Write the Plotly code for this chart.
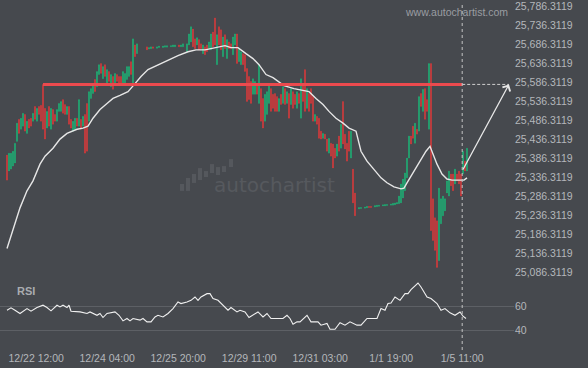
import plotly.graph_objects as go

# ---------------- data ----------------
bar_index = list(range(231))

opens = [
    25395, 25353, 25358, 25366, 25374, 25431, 25489, 25463, 25471, 25502,
    25452, 25489, 25492, 25484, 25523, 25484, 25523, 25526, 25581, 25518,
    25466, 25523, 25463, 25515, 25502, 25484, 25510, 25510, 25541, 25528,
    25502, 25523, 25489, 25458, 25463, 25492, 25471, 25489, 25471, 25502,
    25531, 25484, 25544, 25557, 25594, 25575, 25607, 25636, 25596, 25633,
    25583, 25615, 25575, 25602, 25581, 25607, 25602, 25602, 25583, 25583,
    25594, 25602, 25641, 25583, 25685, 25662, None, None, None, None,
    25680, 25674, 25675, 25680, None, 25676, 25678, None, 25678, 25679,
    25679, None, 25680, 25680, 25680, None, 25685, 25680, 25680, None,
    25667, 25685, 25693, 25727, 25701, 25685, 25699, 25688, 25662, 25680,
    25685, 25675, 25672, 25719, 25756, 25633, 25733, 25725, 25654, 25712,
    25649, 25693, 25688, 25659, 25685, 25714, 25641, 25633, 25662, 25659,
    25623, 25602, 25589, 25555, 25555, 25583, 25531, 25570, 25544, 25484,
    25502, 25531, 25570, 25555, 25557, 25549, 25510, 25555, 25531, 25570,
    25531, 25557, 25528, 25562, 25555, 25518, 25557, 25492, 25581, 25620,
    25518, 25557, 25570, 25549, 25484, 25497, 25492, 25458, 25439, 25450,
    25437, 25400, 25426, 25424, 25413, 25392, 25445, 25413, 25536, 25450,
    25426, 25458, 25387, 25358, 25295, None, 25253, 25254, None, 25255,
    25256, 25260, 25260, None, 25258, 25259, 25260, None, 25261, 25261,
    25262, None, 25263, 25263, 25264, 25266, 25267, 25269, 25282, 25301,
    25335, 25387, 25445, 25471, 25426, 25463, 25458, 25557, 25510, 25570,
    25541, 25463, 25636, 25280, 25230, 25222, 25117, 25214, 25235, 25248,
    25295, 25287, 25345, 25345, 25319, 25345, 25353, 25345, 25345, 25379,
    25353,
]

highs = [
    25395, 25400, 25400, 25405, 25426, 25479, 25489, 25492, 25505, 25502,
    25484, 25489, 25492, 25505, 25523, 25518, 25523, 25526, 25581, 25518,
    25510, 25523, 25518, 25515, 25502, 25515, 25531, 25536, 25541, 25528,
    25523, 25523, 25489, 25484, 25492, 25492, 25541, 25489, 25497, 25502,
    25531, 25562, 25570, 25583, 25594, 25615, 25633, 25636, 25628, 25633,
    25620, 25615, 25607, 25602, 25610, 25607, 25602, 25602, 25615, 25610,
    25628, 25628, 25641, 25701, 25685, 25688, None, None, None, None,
    25680, 25678, 25680, 25680, None, 25680, 25682, None, 25682, 25683,
    25683, None, 25683, 25685, 25685, None, 25685, 25685, 25688, None,
    25688, 25714, 25733, 25727, 25701, 25704, 25699, 25688, 25685, 25680,
    25685, 25693, 25714, 25719, 25756, 25712, 25733, 25725, 25706, 25712,
    25699, 25693, 25688, 25706, 25714, 25714, 25675, 25667, 25662, 25659,
    25623, 25602, 25589, 25596, 25589, 25583, 25633, 25570, 25544, 25555,
    25562, 25581, 25570, 25555, 25557, 25549, 25544, 25555, 25575, 25570,
    25562, 25557, 25570, 25562, 25555, 25562, 25557, 25596, 25581, 25620,
    25570, 25557, 25570, 25549, 25502, 25497, 25492, 25458, 25452, 25450,
    25437, 25439, 25426, 25424, 25413, 25424, 25445, 25476, 25536, 25450,
    25426, 25458, 25458, 25358, 25295, None, 25257, 25257, None, 25258,
    25260, 25260, 25260, None, 25262, 25263, 25263, None, 25264, 25265,
    25265, None, 25266, 25268, 25269, 25270, 25287, 25319, 25332, 25348,
    25387, 25445, 25445, 25471, 25479, 25463, 25549, 25557, 25568, 25570,
    25541, 25636, 25636, 25280, 25230, 25222, 25308, 25280, 25287, 25280,
    25327, 25353, 25345, 25345, 25358, 25345, 25353, 25345, 25405, 25379,
    25413,
]

lows = [
    25329, 25353, 25358, 25366, 25374, 25431, 25452, 25463, 25471, 25458,
    25452, 25466, 25471, 25484, 25489, 25484, 25502, 25484, 25463, 25437,
    25466, 25471, 25463, 25476, 25484, 25484, 25510, 25510, 25505, 25502,
    25502, 25476, 25466, 25458, 25463, 25471, 25471, 25463, 25471, 25400,
    25405, 25484, 25544, 25557, 25562, 25575, 25607, 25610, 25596, 25602,
    25583, 25589, 25575, 25568, 25581, 25589, 25583, 25578, 25583, 25583,
    25594, 25602, 25607, 25583, 25654, 25662, None, None, None, None,
    25672, 25674, 25675, 25676, None, 25676, 25678, None, 25678, 25679,
    25679, None, 25680, 25680, 25680, None, 25680, 25680, 25680, None,
    25667, 25685, 25693, 25680, 25675, 25685, 25672, 25675, 25662, 25659,
    25667, 25675, 25672, 25680, 25685, 25633, 25685, 25672, 25654, 25675,
    25649, 25675, 25675, 25659, 25685, 25636, 25641, 25633, 25633, 25615,
    25536, 25541, 25531, 25555, 25555, 25555, 25531, 25484, 25466, 25484,
    25502, 25531, 25510, 25518, 25510, 25510, 25510, 25528, 25531, 25528,
    25531, 25492, 25528, 25518, 25528, 25518, 25531, 25492, 25536, 25510,
    25518, 25510, 25531, 25484, 25484, 25476, 25439, 25437, 25439, 25437,
    25405, 25400, 25392, 25361, 25387, 25392, 25405, 25413, 25424, 25411,
    25379, 25405, 25387, 25269, 25235, None, 25253, 25254, None, 25255,
    25256, 25257, 25257, None, 25258, 25259, 25260, None, 25261, 25261,
    25262, None, 25263, 25263, 25264, 25266, 25267, 25269, 25282, 25301,
    25335, 25387, 25424, 25439, 25426, 25450, 25458, 25523, 25510, 25489,
    25510, 25463, 25196, 25170, 25144, 25099, 25117, 25214, 25235, 25248,
    25295, 25287, 25314, 25301, 25319, 25327, 25319, 25287, 25345, 25353,
    25353,
]

closes = [
    25329, 25400, 25400, 25405, 25426, 25479, 25452, 25492, 25505, 25458,
    25484, 25466, 25471, 25505, 25489, 25518, 25502, 25484, 25463, 25437,
    25510, 25471, 25518, 25476, 25484, 25515, 25531, 25536, 25505, 25502,
    25523, 25476, 25466, 25484, 25492, 25471, 25541, 25463, 25497, 25400,
    25405, 25562, 25570, 25583, 25562, 25615, 25633, 25610, 25628, 25602,
    25620, 25589, 25607, 25568, 25610, 25589, 25583, 25578, 25615, 25610,
    25628, 25628, 25607, 25701, 25654, 25688, None, None, None, None,
    25672, 25678, 25680, 25676, None, 25680, 25682, None, 25682, 25683,
    25683, None, 25683, 25685, 25685, None, 25680, 25685, 25688, None,
    25688, 25714, 25733, 25680, 25675, 25704, 25672, 25675, 25685, 25659,
    25667, 25693, 25714, 25680, 25685, 25712, 25685, 25672, 25706, 25675,
    25699, 25675, 25675, 25706, 25714, 25636, 25675, 25667, 25633, 25615,
    25536, 25541, 25531, 25596, 25589, 25555, 25633, 25484, 25466, 25555,
    25562, 25581, 25510, 25518, 25510, 25510, 25544, 25528, 25575, 25528,
    25562, 25492, 25570, 25518, 25528, 25562, 25531, 25596, 25536, 25510,
    25570, 25510, 25531, 25484, 25502, 25476, 25439, 25437, 25452, 25437,
    25405, 25439, 25392, 25361, 25387, 25424, 25405, 25476, 25424, 25411,
    25379, 25405, 25458, 25269, 25235, None, 25257, 25257, None, 25258,
    25260, 25257, 25257, None, 25262, 25263, 25263, None, 25264, 25265,
    25265, None, 25266, 25268, 25269, 25270, 25287, 25319, 25332, 25348,
    25387, 25445, 25424, 25439, 25479, 25450, 25549, 25523, 25568, 25489,
    25510, 25636, 25196, 25170, 25144, 25099, 25308, 25280, 25287, 25280,
    25327, 25353, 25314, 25301, 25358, 25327, 25319, 25287, 25405, 25353,
    25413,
]

ma_index = [0, 3, 6.5, 10, 13, 16.5, 19, 23, 26.5, 30,
            32.5, 35, 38, 40.5, 43, 46.5, 50, 53, 56.5, 60.5,
            64, 67, 70.5, 75.5, 80.5, 85.5, 90.5, 94.5, 99, 104,
            109, 112, 115.5, 119.5, 123, 126, 129.5, 133, 135.5, 138.5,
            143.5, 148, 151, 154.5, 158, 161, 164.5, 168, 171, 174.5,
            177, 180, 183.5, 187, 190, 193.5, 197, 198.5, 200, 203.5,
            207, 209.5, 211.5, 212.5, 215, 217.5, 220, 222.5, 225, 228.5,
            230]
ma_values = [25149, 25196, 25256, 25301, 25327, 25371, 25392, 25413, 25437, 25452,
             25458, 25463, 25466, 25471, 25492, 25515, 25531, 25544, 25552, 25562,
             25583, 25602, 25620, 25633, 25646, 25657, 25667, 25672, 25672, 25678,
             25683, 25678, 25678, 25662, 25649, 25633, 25607, 25599, 25589, 25578,
             25570, 25565, 25562, 25544, 25528, 25510, 25492, 25479, 25466, 25458,
             25405, 25379, 25358, 25335, 25322, 25311, 25306, 25308, 25322, 25353,
             25384, 25405, 25418, 25405, 25371, 25345, 25332, 25329, 25329, 25329,
             25335]

rsi_index = [0, 2, 4, 6.5, 10, 12, 15, 18, 20, 22,
             25, 26.5, 28, 30, 31, 32, 36.5, 40, 41.5, 43,
             45, 46.5, 48, 50, 54, 56, 58, 60, 61.5, 63,
             66.5, 68, 70, 72, 74, 75.5, 78, 80.5, 83, 85.5,
             87, 90, 92, 94, 95.5, 97, 100, 101.5, 103, 105.5,
             108, 110.5, 112, 115, 116.5, 119, 121, 123, 125.5, 128,
             130, 132, 138, 140, 141.5, 143, 145, 146.5, 150, 152,
             155.5, 157, 160, 161.5, 164, 166.5, 169, 171.5, 175, 177,
             180, 185, 187, 189, 190.5, 192, 194, 196.5, 199, 200.5,
             202, 205.5, 207, 210, 212, 215, 217, 219, 221.5, 224,
             226.5, 228, 229.5]
rsi_values = [56.9, 58.9, 56.9, 54.2, 58.3, 56.1, 59.2, 61.1, 59.2, 56.4,
              61.1, 59.7, 61.1, 59.2, 61.1, 56.1, 55.5, 54.2, 55.5, 54.2,
              52.7, 54.2, 50.8, 54.2, 55.5, 52.7, 48.0, 50.0, 48.0, 50.0,
              48.6, 50.0, 47.2, 47.2, 51.3, 52.7, 51.3, 54.2, 58.3, 63.8,
              62.5, 63.8, 65.2, 68.0, 65.2, 68.0, 70.8, 70.8, 66.7, 65.2,
              61.1, 56.9, 59.2, 55.5, 56.9, 55.5, 50.8, 52.7, 55.5, 51.3,
              54.2, 50.0, 50.0, 52.7, 50.0, 45.2, 47.2, 47.2, 52.7, 47.2,
              47.2, 44.4, 45.8, 41.0, 41.0, 46.4, 44.4, 47.2, 44.4, 44.4,
              50.0, 50.0, 58.3, 56.9, 62.5, 63.0, 68.0, 65.2, 70.8, 70.8,
              74.2, 79.7, 76.4, 68.0, 66.7, 62.5, 56.9, 58.3, 54.7, 52.7,
              55.5, 51.9, 50.0]

level_price = 25581
level_start_index = 18
signal_index = 227.6
target_index = 251
arrow_start_price = 25353

tick_index = [14.6, 50.1, 85.6, 121.1, 156.6, 192.1, 227.6]
tick_labels = ["12/22 12:00", "12/24 04:00", "12/25 20:00", "12/29 11:00",
               "12/31 03:00", "1/1 19:00", "1/5 11:00"]
price_ticks = [25086.3119, 25136.3119, 25186.3119, 25236.3119, 25286.3119,
               25336.3119, 25386.3119, 25436.3119, 25486.3119, 25536.3119,
               25586.3119, 25636.3119, 25686.3119, 25736.3119, 25786.3119]
rsi_ticks = [40, 60]

# ---------------- styling ----------------
W, H = 588, 368
ML, MR, MT, MB = 0, 74, 0, 18
PW, PH = W - ML - MR, H - MT - MB
BG = "#46494e"
GREEN = "#14cc82"
RED = "#ff3838"
TXT = "#b4b7bb"
FONT = "Liberation Sans, Arial, sans-serif"

fig = go.Figure()

fig.add_trace(go.Candlestick(
    x=bar_index, open=opens, high=highs, low=lows, close=closes,
    increasing=dict(line=dict(color=GREEN, width=0.6), fillcolor=GREEN),
    decreasing=dict(line=dict(color=RED, width=0.6), fillcolor=RED),
    whiskerwidth=0, showlegend=False, hoverinfo="skip",
    xaxis="x", yaxis="y",
))

fig.add_trace(go.Scatter(
    x=ma_index, y=ma_values, mode="lines",
    line=dict(color="#e6e6e6", width=1.4),
    showlegend=False, hoverinfo="skip", xaxis="x", yaxis="y",
))

fig.add_trace(go.Scatter(
    x=rsi_index, y=rsi_values, mode="lines",
    line=dict(color="#f0f0f0", width=1.1),
    showlegend=False, hoverinfo="skip", xaxis="x", yaxis="y2",
))

shapes = [
    # resistance level
    dict(type="line", xref="x", yref="y", x0=level_start_index, x1=signal_index,
         y0=level_price, y1=level_price, line=dict(color="#ec4a4e", width=3)),
    # projected level (dashed)
    dict(type="line", xref="x", yref="y", x0=signal_index, x1=target_index,
         y0=level_price, y1=level_price, line=dict(color="#cfcfcf", width=1, dash="3px,2px")),
    # current time marker
    dict(type="line", xref="x", yref="paper", x0=signal_index, x1=signal_index,
         y0=0, y1=1, line=dict(color="#c4c4c4", width=1, dash="3px,3px")),
]

# watermark logo bars (decoration), given in pixel boxes
logo_boxes = [(180, 184, 183, 190), (186, 190, 177, 190), (192, 196, 173, 182),
              (198, 202, 167, 179), (204, 208, 170, 176), (210, 214, 163, 172),
              (216, 220, 166, 174), (222, 226, 165, 171), (229, 233, 158, 166)]
for x0, x1, y0, y1 in logo_boxes:
    shapes.append(dict(type="rect", xref="paper", yref="paper",
                       x0=(x0 - ML) / PW, x1=(x1 - ML) / PW,
                       y0=1 - (y1 - MT) / PH, y1=1 - (y0 - MT) / PH,
                       fillcolor="#55585d", line=dict(width=0), layer="below"))

annotations = [
    dict(x=target_index, y=level_price, ax=signal_index, ay=arrow_start_price,
         xref="x", yref="y", axref="x", ayref="y", showarrow=True,
         arrowhead=4, arrowsize=1.3, arrowwidth=1.3, arrowcolor="#e8e8e8", text=""),
    dict(text="www.autochartist.com", x=(456 - ML) / PW, y=1 - (10.5 - MT) / PH,
         xref="paper", yref="paper", showarrow=False, xanchor="center", yanchor="middle",
         font=dict(family=FONT, size=10.5, color="#9a9da2")),
    dict(text="<b>RSI</b>", x=(15 - ML) / PW, y=1 - (291 - MT) / PH,
         xref="paper", yref="paper", showarrow=False, xanchor="left", yanchor="middle",
         font=dict(family=FONT, size=11, color="#a9acb0")),
    dict(text="autochartist", x=(274 - ML) / PW, y=1 - (184 - MT) / PH,
         xref="paper", yref="paper", showarrow=False, xanchor="center", yanchor="middle",
         font=dict(family="DejaVu Sans, sans-serif", size=20, color="#56595e")),
]

fig.update_layout(
    width=W, height=H,
    margin=dict(l=ML, r=MR, t=MT, b=MB, pad=0),
    paper_bgcolor=BG, plot_bgcolor=BG,
    font=dict(family=FONT, size=10.5, color=TXT),
    showlegend=False,
    boxgap=0.7,
    xaxis=dict(domain=[0, 1], range=[-3.5, -3.5 + PW / 2], anchor="y2",
               tickvals=tick_index, ticktext=tick_labels, ticks="",
               showgrid=False, zeroline=False, showline=False,
               rangeslider=dict(visible=False),
               tickfont=dict(family=FONT, size=10.5, color=TXT)),
    yaxis=dict(domain=[0.2, 1], range=[25065, 25798], side="right", anchor="x",
               tickvals=price_ticks, tickformat=",.4f", ticks="",
               ticklabeloverflow="allow",
               showgrid=False, zeroline=False, showline=False,
               tickfont=dict(family=FONT, size=10.5, color=TXT)),
    yaxis2=dict(domain=[0, 0.2], range=[23.6, 81.9], side="right", anchor="x",
                tickvals=rsi_ticks, ticks="", showgrid=True, gridcolor="#5d6065",
                gridwidth=1, zeroline=False, showline=False,
                tickfont=dict(family=FONT, size=10.5, color=TXT)),
    shapes=shapes,
    annotations=annotations,
)

fig.write_html("out.html")
